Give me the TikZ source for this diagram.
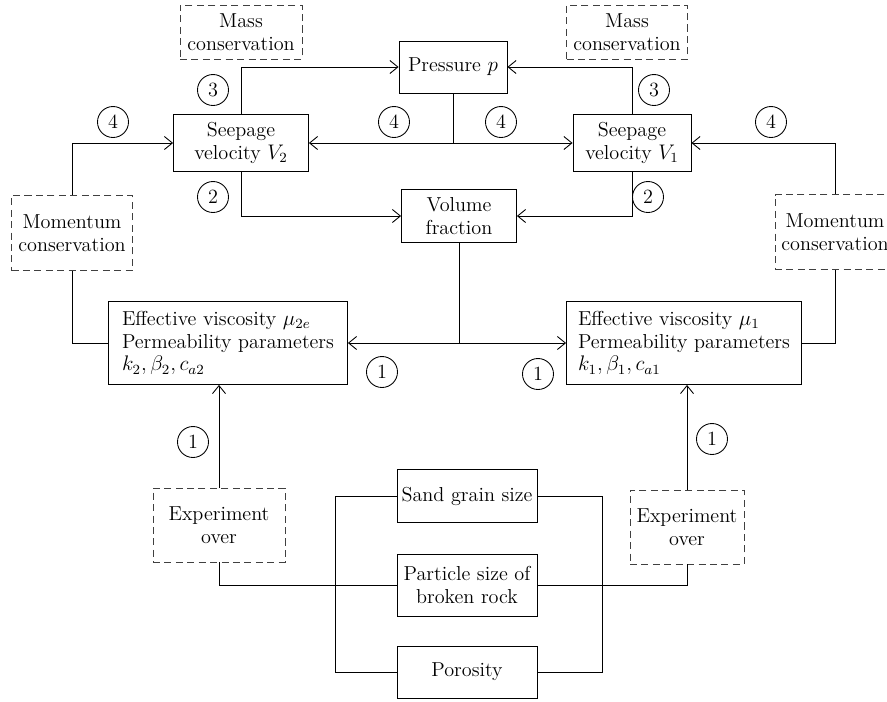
\documentclass[tikz,border=0pt]{standalone}
\usetikzlibrary{arrows.meta}

\begin{document}
\begin{tikzpicture}[x=0.02cm, y=-0.02cm, line width=0.5pt,
		>={Straight Barb[length=1.6mm, width=2.6mm]},
		box/.style={draw, align=center, inner sep=2pt, font=\fontsize{11.5}{13}\selectfont},
		dbox/.style={box, draw=black!75, dash pattern=on 4pt off 2.5pt},
		num/.style={draw, circle, minimum size=0.62cm, inner sep=0pt, font=\fontsize{11.5}{13}\selectfont}]
	\useasboundingbox ( 0, 0 ) rectangle ( 887, 701 );

	% законы сохранения
	\node [dbox, minimum width=2.44cm, minimum height=1.08cm] (massL) at ( 241, 32 ) {Mass\\conservation};
	\node [dbox, minimum width=2.42cm, minimum height=1.08cm] (massR) at ( 627, 32 ) {Mass\\conservation};
	\node [dbox, minimum width=2.42cm, minimum height=1.50cm] (momL) at ( 72, 233 ) {Momentum\\conservation};
	\node [dbox, minimum width=2.40cm, minimum height=1.50cm] (momR) at ( 835, 232 ) {Momentum\\conservation};

	% давление, скорости, объемная доля
	\node [box, minimum width=2.16cm, minimum height=1.04cm] (press) at ( 453, 67 ) {Pressure $p$};
	\node [box, minimum width=2.70cm, minimum height=1.14cm] (velL) at ( 241, 143 ) {Seepage\\velocity $V_2$};
	\node [box, minimum width=2.36cm, minimum height=1.14cm] (velR) at ( 632, 143 ) {Seepage\\velocity $V_1$};
	\node [box, minimum width=2.30cm, minimum height=1.06cm] (vol) at ( 459, 216 ) {Volume\\fraction};

	% параметры фаз
	\node [box, align=left, minimum width=4.78cm, minimum height=1.66cm] (effL) at ( 228, 343 )
		{Effective viscosity $\mu_{2e}$\\Permeability parameters\\$k_2, \beta_2, c_{a2}$};
	\node [box, align=left, minimum width=4.70cm, minimum height=1.66cm] (effR) at ( 684, 343 )
		{Effective viscosity $\mu_1$\\Permeability parameters\\$k_1, \beta_1, c_{a1}$};

	% эксперимент
	\node [dbox, minimum width=2.64cm, minimum height=1.48cm] (expL) at ( 219, 525 ) {Experiment\\over};
	\node [dbox, minimum width=2.28cm, minimum height=1.48cm] (expR) at ( 687, 527 ) {Experiment\\over};
	\node [box, minimum width=2.80cm, minimum height=1.06cm] (sand) at ( 467, 496 ) {Sand grain size};
	\node [box, minimum width=2.80cm, minimum height=1.24cm] (part) at ( 467, 585 ) {Particle size of\\broken rock};
	\node [box, minimum width=2.80cm, minimum height=1.04cm] (poro) at ( 467, 672 ) {Porosity};

	% номера шагов
	\node [num] (n3L) at ( 213, 90 ) {3};
	\node [num] (n3R) at ( 654, 90 ) {3};
	\node [num] (n4a) at ( 113, 122 ) {4};
	\node [num] (n4b) at ( 394, 122 ) {4};
	\node [num] (n4c) at ( 501, 122 ) {4};
	\node [num] (n4d) at ( 771, 122 ) {4};
	\node [num] (n2L) at ( 213, 197 ) {2};
	\node [num] (n2R) at ( 648, 197 ) {2};
	\node [num] (n1a) at ( 382, 372 ) {1};
	\node [num] (n1b) at ( 538, 374 ) {1};
	\node [num] (n1c) at ( 193, 442 ) {1};
	\node [num] (n1d) at ( 712, 439 ) {1};

	% связи сверху
	\draw [->] (velL.north) |- (press.west);
	\draw [->] (velR.north) |- (press.east);
	\draw [->] (momL.north) |- (velL.west);
	\draw [->] (momR.north) |- (velR.east);
	\draw (press.south) -- (press.south |- velL.east);
	\draw [<->] (velL.east) -- (velR.west);
	\draw [->] (velL.south) |- (vol.west);
	\draw [->] (velR.south) |- (vol.east);

	% связи посередине
	\draw (vol.south) -- (vol.south |- effL.east);
	\draw [<->] (effL.east) -- (effR.west);
	\draw (momL.south) |- (effL.west);
	\draw (momR.south) |- (effR.east);
	\draw [->] (expL.north) -- (expL.north |- effL.south);
	\draw [->] (expR.north) -- (expR.north |- effR.south);

	% связи снизу
	\draw (expL.south) |- (part.west);
	\draw (expR.south) |- (part.east);
	\draw (sand.west) -- ++( -61, 0 ) |- (poro.west);
	\draw (sand.east) -- ++( 65, 0 ) |- (poro.east);
\end{tikzpicture}
\end{document}
